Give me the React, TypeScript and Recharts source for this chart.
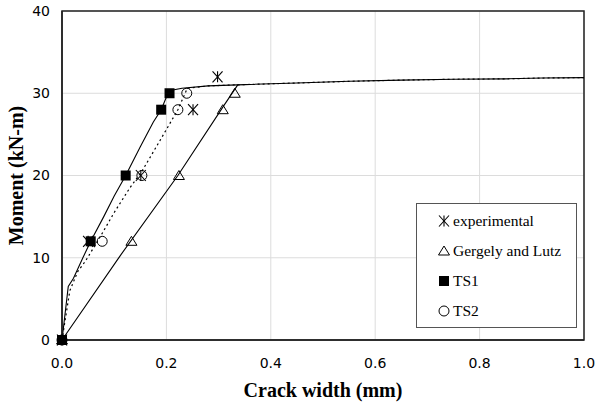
import React from 'react';
import { ComposedChart, Line, Scatter, XAxis, YAxis, CartesianGrid, Legend, ReferenceArea } from 'recharts';

// Marker data (crack width mm, moment kN-m)
const experimental = [
  { x: 0, y: 0 }, { x: 0.05, y: 12 }, { x: 0.151, y: 20 }, { x: 0.251, y: 28 }, { x: 0.298, y: 32 },
];
const gergely = [
  { x: 0, y: 0 }, { x: 0.133, y: 12 }, { x: 0.224, y: 20 }, { x: 0.308, y: 28 }, { x: 0.331, y: 30 },
];
const ts1 = [
  { x: 0, y: 0 }, { x: 0.055, y: 12 }, { x: 0.122, y: 20 }, { x: 0.19, y: 28 }, { x: 0.206, y: 30 },
];
const ts2 = [
  { x: 0, y: 0 }, { x: 0.077, y: 12 }, { x: 0.153, y: 20 }, { x: 0.222, y: 28 }, { x: 0.239, y: 30 },
];

// Curves
const ts1Curve = [
  { x: 0, y: 0 }, { x: 0.012, y: 6.5 }, { x: 0.022, y: 7.5 }, { x: 0.04, y: 10 }, { x: 0.055, y: 12 },
  { x: 0.08, y: 15 }, { x: 0.1, y: 17.5 }, { x: 0.122, y: 20 }, { x: 0.15, y: 23.5 }, { x: 0.175, y: 26.5 },
  { x: 0.19, y: 28 }, { x: 0.205, y: 30.3 }, { x: 0.23, y: 30.6 }, { x: 0.28, y: 30.9 }, { x: 0.35, y: 31.05 },
  { x: 0.45, y: 31.25 }, { x: 0.55, y: 31.45 }, { x: 0.65, y: 31.6 }, { x: 0.75, y: 31.7 }, { x: 0.85, y: 31.75 },
  { x: 0.92, y: 31.85 }, { x: 1.0, y: 31.9 },
];
const ts2Curve = [
  { x: 0, y: 0 }, { x: 0.015, y: 6 }, { x: 0.03, y: 8.3 }, { x: 0.045, y: 9.6 }, { x: 0.07, y: 12.2 },
  { x: 0.1, y: 15.5 }, { x: 0.13, y: 18.5 }, { x: 0.153, y: 20.5 }, { x: 0.19, y: 24.5 }, { x: 0.222, y: 28 },
  { x: 0.24, y: 30.6 }, { x: 0.28, y: 30.9 }, { x: 0.35, y: 31.05 }, { x: 0.45, y: 31.25 }, { x: 0.55, y: 31.45 },
  { x: 0.65, y: 31.6 }, { x: 0.75, y: 31.7 }, { x: 0.85, y: 31.75 }, { x: 0.92, y: 31.85 }, { x: 1.0, y: 31.9 },
];
const gergelyCurve = [
  { x: 0, y: 0 }, { x: 0.111, y: 10.2 }, { x: 0.222, y: 20 }, { x: 0.31, y: 28.5 }, { x: 0.337, y: 31.05 },
];

const xTicks = [0, 0.2, 0.4, 0.6, 0.8, 1.0];
const yTicks = [0, 10, 20, 30, 40];
const legendNames = ['experimental', 'Gergely and Lutz', 'TS1', 'TS2'];

const Star = (props: any) => {
  const { cx, cy } = props;
  const r = 5.5;
  const dx = 5;
  const dy = 5.5;
  return (
    <g stroke="#000" strokeWidth={1.1}>
      <line x1={cx} y1={cy - r} x2={cx} y2={cy + r} />
      <line x1={cx - dx} y1={cy - dy} x2={cx + dx} y2={cy + dy} />
      <line x1={cx - dx} y1={cy + dy} x2={cx + dx} y2={cy - dy} />
    </g>
  );
};
const Tri = (props: any) => {
  const { cx, cy } = props;
  return (
    <polygon
      points={`${cx},${cy - 5} ${cx + 5.5},${cy + 4} ${cx - 5.5},${cy + 4}`}
      fill="none"
      stroke="#000"
      strokeWidth={1}
    />
  );
};
const Sq = (props: any) => {
  const { cx, cy } = props;
  return <rect x={cx - 5} y={cy - 5} width={10} height={10} fill="#000" />;
};
const Circ = (props: any) => {
  const { cx, cy } = props;
  return <circle cx={cx} cy={cy} r={5} fill="none" stroke="#000" strokeWidth={1} />;
};
const shapes = [Star, Tri, Sq, Circ];

const LegendBox = () => (
  <div
    style={{
      width: 161,
      height: 125,
      border: '1px solid #555',
      background: '#fff',
      boxSizing: 'border-box',
      fontFamily: '"Liberation Serif", "Times New Roman", serif',
      fontSize: 15.5,
      color: '#000',
      paddingTop: 2,
    }}
  >
    {legendNames.map((n, i) => {
      const S = shapes[i];
      return (
        <div key={n} style={{ height: 30, display: 'flex', alignItems: 'center' }}>
          <svg width={33} height={16} style={{ display: 'block' }}>
            <S cx={27} cy={8} />
          </svg>
          <span style={{ marginLeft: 3 }}>{n}</span>
        </div>
      );
    })}
  </div>
);

export default function App() {
  return (
    <div style={{ position: 'absolute', left: 0, top: 0, width: 595, height: 405, background: '#fff' }}>
      <ComposedChart width={595} height={405} margin={{ top: 11, right: 11, bottom: 0, left: 0 }}>
        <CartesianGrid stroke="#dcdcdc" strokeWidth={1} />
        <XAxis
          type="number"
          dataKey="x"
          domain={[0, 1]}
          ticks={xTicks}
          tickFormatter={(v: number) => v.toFixed(1)}
          height={65}
          tickLine={false}
          tickSize={6}
          tickMargin={12}
          axisLine={{ stroke: '#222', strokeWidth: 1.5 }}
          tick={{ fill: '#000', fontSize: 14, fontFamily: '"DejaVu Sans", sans-serif' }}
          label={{
            value: 'Crack width (mm)',
            position: 'insideBottom',
            offset: 8,
            style: { fontFamily: '"Liberation Serif", serif', fontWeight: 'bold', fontSize: 20, fill: '#000' },
          }}
        />
        <YAxis
          type="number"
          dataKey="y"
          domain={[0, 40]}
          ticks={yTicks}
          width={62}
          tickLine={false}
          tickSize={6}
          tickMargin={6}
          axisLine={{ stroke: '#222', strokeWidth: 1.5 }}
          tick={{ fill: '#000', fontSize: 14, fontFamily: '"DejaVu Sans", sans-serif' }}
          label={{
            value: 'Moment (kN-m)',
            angle: -90,
            position: 'insideLeft',
            offset: 16,
            style: { textAnchor: 'middle', fontFamily: '"Liberation Serif", serif', fontWeight: 'bold', fontSize: 20, fill: '#000' },
          }}
        />
        <ReferenceArea x1={0} x2={1} y1={0} y2={40} fill="none" stroke="#222" strokeWidth={1.5} ifOverflow="visible" />
        <Line data={gergelyCurve} dataKey="y" type="linear" stroke="#000" strokeWidth={1.1} dot={false} isAnimationActive={false} legendType="none" />
        <Line data={ts2Curve} dataKey="y" type="linear" stroke="#000" strokeWidth={1.2} strokeDasharray="2 3" dot={false} isAnimationActive={false} legendType="none" />
        <Line data={ts1Curve} dataKey="y" type="linear" stroke="#000" strokeWidth={1.1} dot={false} isAnimationActive={false} legendType="none" />
        <Scatter name="experimental" data={experimental} dataKey="y" shape={Star} isAnimationActive={false} />
        <Scatter name="Gergely and Lutz" data={gergely} dataKey="y" shape={Tri} isAnimationActive={false} />
        <Scatter name="TS2" data={ts2} dataKey="y" shape={Circ} isAnimationActive={false} />
        <Scatter name="TS1" data={ts1} dataKey="y" shape={Sq} isAnimationActive={false} />
        <Legend
          layout="vertical"
          align="center"
          verticalAlign="middle"
          content={() => <LegendBox />}
          wrapperStyle={{ left: 416, top: 203, width: 161, height: 125 }}
        />
      </ComposedChart>
    </div>
  );
}
